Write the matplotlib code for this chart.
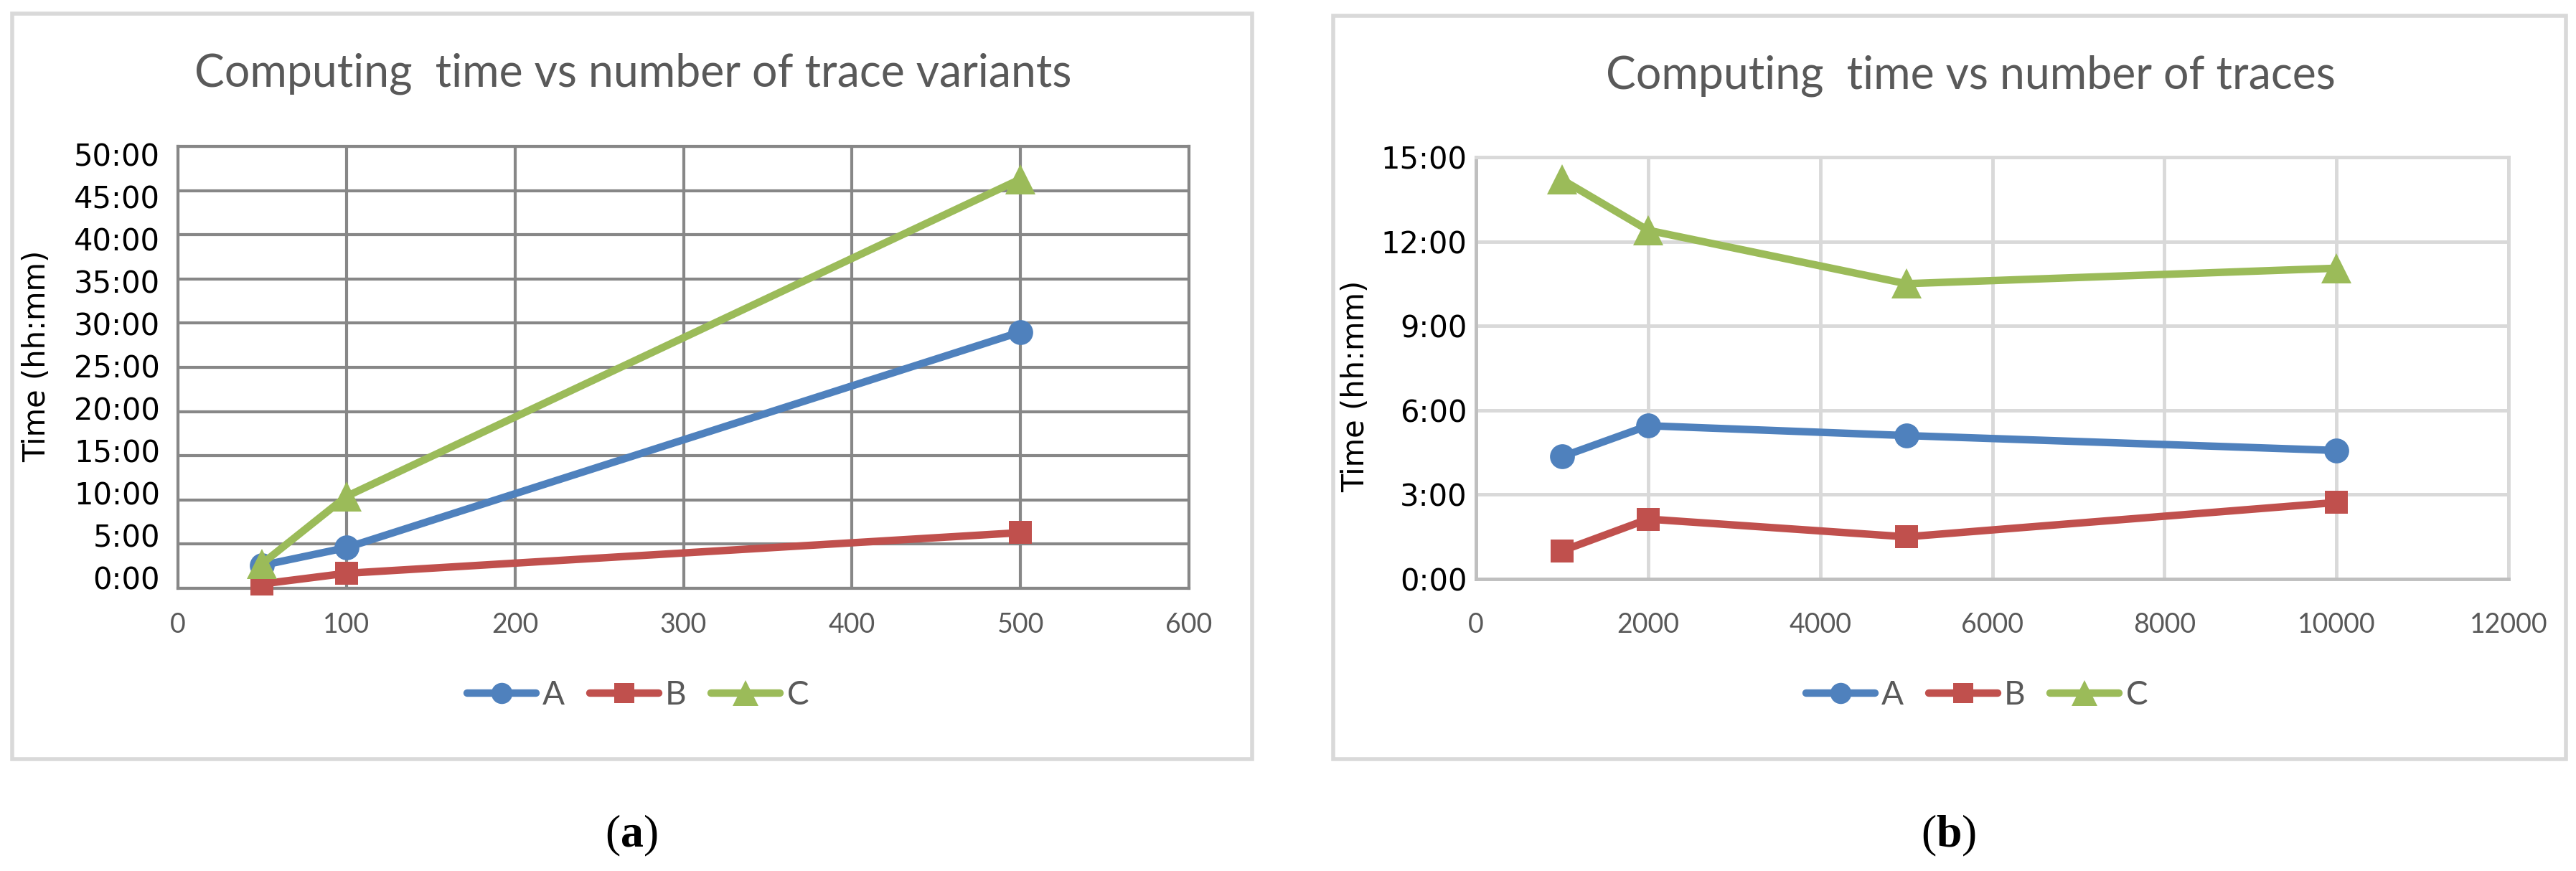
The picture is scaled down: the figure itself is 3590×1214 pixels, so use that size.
import matplotlib
matplotlib.use("Agg")
import matplotlib.pyplot as plt
from matplotlib.patches import Rectangle
from matplotlib.ticker import FuncFormatter, MultipleLocator

plt.rcParams['mathtext.fontset'] = 'custom'
plt.rcParams['mathtext.rm'] = 'Liberation Serif'
plt.rcParams['mathtext.bf'] = 'Liberation Serif:bold'

# ---------------- data (hours) ----------------
series_names = ["A", "B", "C"]

variants_x = [50, 100, 500]
variants_A = [2.6, 4.6, 29.0]
variants_B = [0.5, 1.7, 6.3]
variants_C = [2.8, 10.4, 46.3]

traces_x = [1000, 2000, 5000, 10000]
traces_A = [4.35, 5.45, 5.1, 4.57]
traces_B = [1.0, 2.13, 1.5, 2.72]
traces_C = [14.2, 12.4, 10.5, 11.05]

title_a = "Computing  time vs number of trace variants"
title_b = "Computing  time vs number of traces"
ylabel = "Time (hh:mm)"

colors = ["#4F81BD", "#C0504D", "#9BBB59"]
markers = ["o", "s", "^"]
msizes = [25, 23, 30]

W, H = 3590, 1214
fig = plt.figure(figsize=(W / 100, H / 100), dpi=100)


def fx(px):
    return px / W


def fy(py):
    return 1 - py / H


# panel frames
for (x0, y0, x1, y1) in [(17, 19, 1745, 1058), (1858, 22, 3576, 1058)]:
    fig.patches.append(Rectangle((fx(x0), fy(y1)), fx(x1) - fx(x0), fy(y0) - fy(y1),
                                 transform=fig.transFigure, fill=False,
                                 edgecolor="#D9D9D9", linewidth=4.0, zorder=0))

ax_a = fig.add_axes([fx(248), fy(820), fx(1657) - fx(248), fy(204) - fy(820)])
ax_b = fig.add_axes([fx(2057), fy(807), fx(3496) - fx(2057), fy(219) - fy(807)])

fmt = FuncFormatter(lambda v, p: f"{int(round(v))}:00")


def draw(ax, xs, ys_list):
    handles = []
    for ys, c, m, ms, name in zip(ys_list, colors, markers, msizes, series_names):
        h, = ax.plot(xs, ys, color=c, marker=m, markersize=ms, markeredgewidth=0,
                     linewidth=7.5, solid_capstyle="round", solid_joinstyle="round",
                     clip_on=False, zorder=3, label=name)
        handles.append(h)
    return handles


h_a = draw(ax_a, variants_x, [variants_A, variants_B, variants_C])
h_b = draw(ax_b, traces_x, [traces_A, traces_B, traces_C])

# panel a styling
ax_a.set_xlim(0, 600)
ax_a.set_ylim(0, 50)
ax_a.xaxis.set_major_locator(MultipleLocator(100))
ax_a.yaxis.set_major_locator(MultipleLocator(5))
ax_a.yaxis.set_major_formatter(fmt)
ax_a.grid(True, color="#878787", linewidth=3.0)
ax_a.set_axisbelow(True)
for s in ax_a.spines.values():
    s.set_color("#878787")
    s.set_linewidth(3.0)
ax_a.tick_params(axis="both", length=0)
ax_a.tick_params(axis="y", labelleft=False)
ax_a.tick_params(axis="x", labelsize=27, labelcolor="#595959", pad=24,
                 labelfontfamily="Lato")
ax_a.set_ylabel(ylabel, fontsize=30, family="DejaVu Sans", color="black")
ax_a.yaxis.set_label_coords(-0.125, 0.526)

# value labels of panel a sit on a slightly compressed scale in the original
sec = ax_a.secondary_yaxis("left",
                           functions=(lambda m: (12.32 * m - 15) / 11.8,
                                      lambda v: (15 + 11.8 * v) / 12.32))
sec.yaxis.set_major_locator(MultipleLocator(5))
sec.yaxis.set_major_formatter(fmt)
sec.spines["left"].set_visible(False)
sec.tick_params(axis="y", length=0, labelsize=30, labelcolor="black", pad=18,
                labelfontfamily="DejaVu Sans")

# panel b styling
ax_b.set_xlim(0, 12000)
ax_b.set_ylim(0, 15)
ax_b.xaxis.set_major_locator(MultipleLocator(2000))
ax_b.yaxis.set_major_locator(MultipleLocator(3))
ax_b.yaxis.set_major_formatter(fmt)
ax_b.grid(True, color="#D9D9D9", linewidth=3.5)
ax_b.set_axisbelow(True)
for k, s in ax_b.spines.items():
    s.set_linewidth(3.5)
    s.set_color("#BFBFBF" if k in ("left", "bottom") else "#D9D9D9")
ax_b.tick_params(axis="both", length=0)
ax_b.tick_params(axis="y", labelsize=30, labelcolor="black", pad=9,
                 labelfontfamily="DejaVu Sans")
ax_b.tick_params(axis="x", labelsize=27, labelcolor="#595959", pad=33,
                 labelfontfamily="Lato")
ax_b.set_ylabel(ylabel, fontsize=30, family="DejaVu Sans", color="black")
ax_b.yaxis.set_label_coords(-0.102, 0.457)

# titles
fig.text(fx(882), fy(103), title_a, ha="center", va="center", fontsize=45,
         family="Lato", color="#595959")
fig.text(fx(2746), fy(106), title_b, ha="center", va="center", fontsize=45,
         family="Lato", color="#595959")

# legends
for handles, cx in [(h_a, 889), (h_b, 2755)]:
    fig.legend(handles=handles, labels=series_names, loc="center",
               bbox_to_anchor=(fx(cx), fy(969)), ncol=3, frameon=False,
               prop={"family": "Lato", "size": 33}, labelcolor="#595959",
               handlelength=2.1, handletextpad=0.2, columnspacing=0.75,
               markerscale=0.85)

# captions
fig.text(fx(880), fy(1165), r"($\mathbf{a}$)", ha="center", va="center",
         fontsize=46, family="Liberation Serif")
fig.text(fx(2716), fy(1165), r"($\mathbf{b}$)", ha="center", va="center",
         fontsize=46, family="Liberation Serif")

fig.savefig("out.png", dpi=100, facecolor="white")
